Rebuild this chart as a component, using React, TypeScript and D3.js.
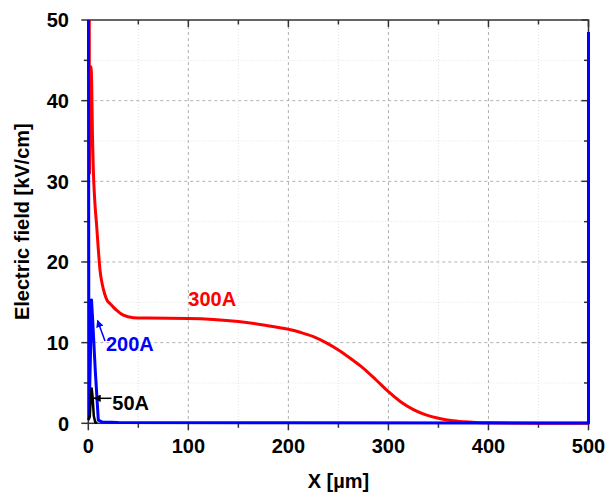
import React from "react";
import * as d3 from "d3";

const xTicks = [0, 100, 200, 300, 400, 500];
const yTicks = [0, 10, 20, 30, 40, 50];
const xMinor = [50, 150, 250, 350, 450];
const yMinor = [5, 15, 25, 35, 45];

// 300A curve (red)
const redX = [0.9, 1.2, 2.0, 2.7, 3.4, 4.2, 5.0, 6.5, 8.4, 10, 11.7, 14, 16.7, 19, 21.7, 25, 28.4, 35, 45, 60, 80, 100, 125, 150, 175, 200, 212.5, 225, 237.5, 250, 262.5, 275, 287.5, 300, 312.5, 325, 337.5, 350, 362.5, 375, 387.5, 400, 450, 500];
const redY = [62, 31, 43.2, 44.2, 42, 35.5, 31.5, 27.5, 24.4, 21.6, 19, 17.2, 15.9, 15.2, 14.85, 14.4, 14.0, 13.4, 13.1, 13.05, 13.02, 13.0, 12.88, 12.62, 12.19, 11.65, 11.25, 10.74, 10.0, 9.09, 8.0, 6.82, 5.4, 3.92, 2.65, 1.7, 1.05, 0.62, 0.35, 0.2, 0.11, 0.06, 0.01, 0.0];

// 200A curve (blue)
const blueX = [0, 0.6, 2.0, 3.2, 4.2, 7, 10, 14, 30, 200, 500, 500];
const blueY = [70, 0.6, 7.5, 15.3, 13.2, 6.5, 0.4, 0.15, 0.1, 0.06, 0.05, 48.5];

// 50A curve (black)
const blackX = [0, 1.5, 2.5, 3.4, 4.3, 5.5, 7, 9];
const blackY = [0.4, 0.9, 3.2, 4.3, 3.3, 0.9, 0.1, 0.05];

const W = 612;
const H = 496;
const x0 = 88.3, x1 = 588.5, y0 = 423.3, y1 = 20;

export default function App() {
  const x = d3.scaleLinear().domain([0, 500]).range([x0, x1]);
  const y = d3.scaleLinear().domain([0, 50]).range([y0, y1]);

  const mk = (xs: number[], ys: number[], curve: any) =>
    d3
      .line<number>()
      .x((_, i) => x(xs[i]))
      .y((_, i) => y(ys[i]))
      .curve(curve)(xs) as string;

  const redPath = mk(redX, redY, d3.curveMonotoneX);
  const bluePath = mk(blueX, blueY, d3.curveLinear);
  const blackPath = mk(blackX, blackY, d3.curveLinear);

  const font = "'Liberation Sans', Arial, Helvetica, sans-serif";
  const frame = "#333";

  return (
    <svg
      width={W}
      height={H}
      style={{ position: "absolute", left: 0, top: 0, background: "#fff" }}
      fontFamily={font}
    >
      <defs>
        <clipPath id="plot">
          <rect x={x0 - 3} y={y1} width={x1 - x0 + 6} height={y0 - y1 + 3} />
        </clipPath>
        <marker id="ahBlue" viewBox="0 0 10 10" refX="9" refY="5" markerWidth="5" markerHeight="5" orient="auto">
          <path d="M0,0 L10,5 L0,10 z" fill="#0000ff" />
        </marker>
        <marker id="ahBlack" viewBox="0 0 10 10" refX="9" refY="5" markerWidth="5" markerHeight="5" orient="auto">
          <path d="M0,0 L10,5 L0,10 z" fill="#000" />
        </marker>
      </defs>

      {/* minor grid */}
      {xMinor.map((t) => (
        <line key={"xm" + t} x1={x(t)} x2={x(t)} y1={y1} y2={y0} stroke="#e2e2e2" strokeWidth={1} strokeDasharray="1,2" />
      ))}
      {yMinor.map((t) => (
        <line key={"ym" + t} x1={x0} x2={x1} y1={y(t)} y2={y(t)} stroke="#e2e2e2" strokeWidth={1} strokeDasharray="1,2" />
      ))}
      {/* major grid */}
      {xTicks.slice(1, -1).map((t) => (
        <line key={"xg" + t} x1={x(t)} x2={x(t)} y1={y1} y2={y0} stroke="#b0b0b0" strokeWidth={1} strokeDasharray="3,3" />
      ))}
      {yTicks.slice(1, -1).map((t) => (
        <line key={"yg" + t} x1={x0} x2={x1} y1={y(t)} y2={y(t)} stroke="#b0b0b0" strokeWidth={1} strokeDasharray="3,3" />
      ))}

      {/* frame */}
      <rect x={x0} y={y1} width={x1 - x0} height={y0 - y1} fill="none" stroke={frame} strokeWidth={1.5} />

      {/* ticks */}
      {xTicks.map((t) => (
        <g key={"xt" + t}>
          <line x1={x(t)} x2={x(t)} y1={y0} y2={y0 + 7} stroke={frame} strokeWidth={1.5} />
          <line x1={x(t)} x2={x(t)} y1={y1} y2={y1 + 7} stroke={frame} strokeWidth={1.5} />
          <text x={x(t)} y={y0 + 30} textAnchor="middle" fontSize={20} fontWeight="bold" fill="#000">
            {t}
          </text>
        </g>
      ))}
      {xMinor.map((t) => (
        <g key={"xmt" + t}>
          <line x1={x(t)} x2={x(t)} y1={y0} y2={y0 + 4.5} stroke={frame} strokeWidth={1.5} />
          <line x1={x(t)} x2={x(t)} y1={y1} y2={y1 + 4.5} stroke={frame} strokeWidth={1.5} />
        </g>
      ))}
      {yTicks.map((t) => (
        <g key={"yt" + t}>
          <line x1={x0 - 7} x2={x0} y1={y(t)} y2={y(t)} stroke={frame} strokeWidth={1.5} />
          <line x1={x1 - 7} x2={x1} y1={y(t)} y2={y(t)} stroke={frame} strokeWidth={1.5} />
          <text x={69} y={y(t)} dy="0.36em" textAnchor="end" fontSize={20} fontWeight="bold" fill="#000">
            {t}
          </text>
        </g>
      ))}
      {yMinor.map((t) => (
        <g key={"ymt" + t}>
          <line x1={x0 - 4.5} x2={x0} y1={y(t)} y2={y(t)} stroke={frame} strokeWidth={1.5} />
          <line x1={x1 - 4.5} x2={x1} y1={y(t)} y2={y(t)} stroke={frame} strokeWidth={1.5} />
        </g>
      ))}

      {/* curves */}
      <g clipPath="url(#plot)" fill="none" strokeLinejoin="round">
        <path d={redPath} stroke="#ff0000" strokeWidth={3} />
        <path d={bluePath} stroke="#0000ff" strokeWidth={3} />
        <path d={blackPath} stroke="#000" strokeWidth={2.5} />
      </g>

      {/* axis titles */}
      <text x={(x0 + x1) / 2} y={488} textAnchor="middle" fontSize={20} fontWeight="bold" fill="#000">
        X [µm]
      </text>
      <text
        transform={`translate(28.5,${(y0 + y1) / 2}) rotate(-90)`}
        textAnchor="middle"
        fontSize={20}
        fontWeight="bold"
        fill="#000"
      >
        Electric field [kV/cm]
      </text>

      {/* annotations */}
      <text x={x(100)} y={y(14.54)} fontSize={20} fontWeight="bold" fill="#ff0000">
        300A
      </text>
      <text x={x(17.7)} y={y(8.96)} fontSize={20} fontWeight="bold" fill="#0000ff">
        200A
      </text>
      <text x={x(24)} y={y(1.65)} fontSize={20} fontWeight="bold" fill="#000">
        50A
      </text>
      <line
        x1={x(16.7)}
        y1={y(10.2)}
        x2={x(9.2)}
        y2={y(12.75)}
        stroke="#0000ff"
        strokeWidth={1.5}
        markerEnd="url(#ahBlue)"
      />
      <line
        x1={x(23.2)}
        y1={y(3.1)}
        x2={x(5.7)}
        y2={y(3.1)}
        stroke="#000"
        strokeWidth={1.5}
        markerEnd="url(#ahBlack)"
      />
    </svg>
  );
}
